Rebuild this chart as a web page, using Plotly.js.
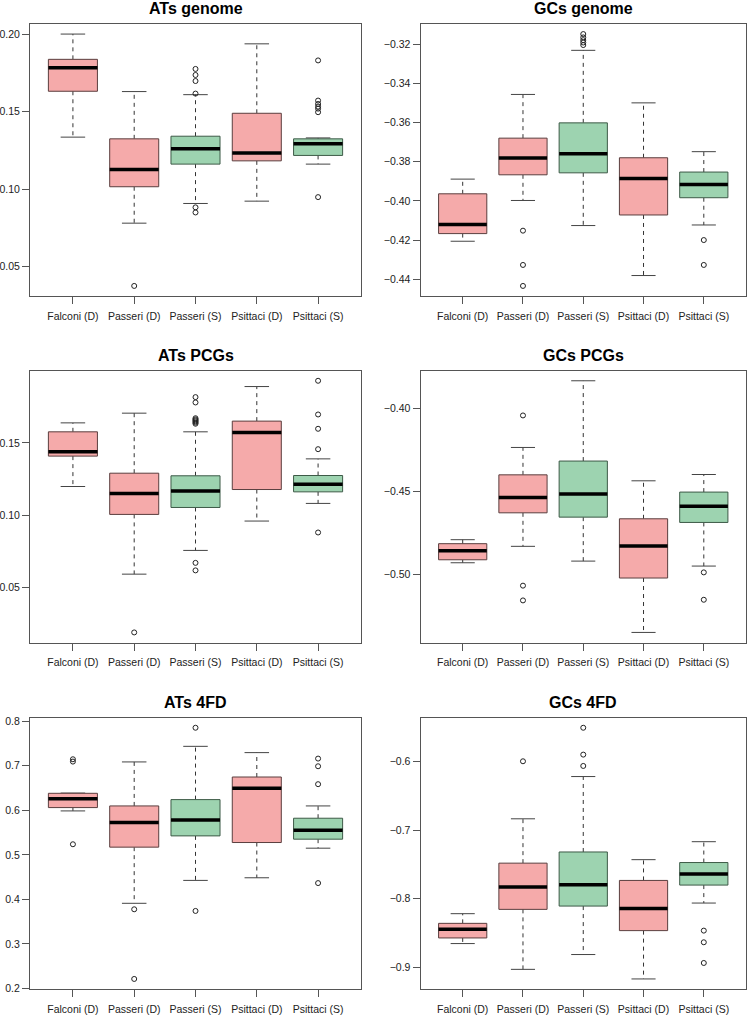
<!DOCTYPE html>
<html><head><meta charset="utf-8">
<script src="https://cdn.plot.ly/plotly-3.0.1.min.js"></script>
<style>html,body{margin:0;padding:0;background:#fff}#chart{width:752px;height:1017px}</style>
</head><body><div id="chart"></div>
<script>
// ---------------- data ----------------
const categories = ['Falconi (D)', 'Passeri (D)', 'Passeri (S)', 'Psittaci (D)', 'Psittaci (S)'];
const groupOf = ['D', 'D', 'S', 'D', 'S'];

const atsGenomeLower  = [0.1335, 0.0780, 0.0907, 0.0922, 0.1161];
const atsGenomeQ1     = [0.1631, 0.1015, 0.1161, 0.1182, 0.1217];
const atsGenomeMedian = [0.1783, 0.1127, 0.1260, 0.1232, 0.1292];
const atsGenomeQ3     = [0.1837, 0.1324, 0.1341, 0.1489, 0.1324];
const atsGenomeUpper  = [0.2000, 0.1629, 0.1609, 0.1937, 0.1330];
const atsGenomeOut    = [[], [0.0375], [0.1775, 0.1736, 0.1697, 0.1616, 0.0882, 0.0849], [], [0.1830, 0.1571, 0.1549, 0.1532, 0.1519, 0.1496, 0.0948]];

const gcsGenomeLower  = [-0.4206, -0.3998, -0.4126, -0.4381, -0.4123];
const gcsGenomeQ1     = [-0.4167, -0.3867, -0.3857, -0.4072, -0.3984];
const gcsGenomeMedian = [-0.4120, -0.3781, -0.3759, -0.3886, -0.3917];
const gcsGenomeQ3     = [-0.3964, -0.3680, -0.3602, -0.3780, -0.3853];
const gcsGenomeUpper  = [-0.3889, -0.3457, -0.3232, -0.3500, -0.3749];
const gcsGenomeOut    = [[], [-0.4152, -0.4327, -0.4434], [-0.3149, -0.3166, -0.3180, -0.3192, -0.3205], [], [-0.4200, -0.4327]];

const atsPcgLower  = [0.1198, 0.0592, 0.0756, 0.0959, 0.1081];
const atsPcgQ1     = [0.1408, 0.1005, 0.1053, 0.1177, 0.1161];
const atsPcgMedian = [0.1438, 0.1150, 0.1166, 0.1571, 0.1214];
const atsPcgQ3     = [0.1576, 0.1290, 0.1272, 0.1650, 0.1274];
const atsPcgUpper  = [0.1638, 0.1705, 0.1576, 0.1889, 0.1389];
const atsPcgOut    = [[], [0.0189], [0.1816, 0.1779, 0.1670, 0.1662, 0.1655, 0.1648, 0.1640, 0.1632, 0.0670, 0.0618], [], [0.1929, 0.1696, 0.1597, 0.1456, 0.0880]];

const gcsPcgLower  = [-0.4930, -0.4831, -0.4920, -0.5350, -0.4950];
const gcsPcgQ1     = [-0.4912, -0.4629, -0.4655, -0.5022, -0.4687];
const gcsPcgMedian = [-0.4857, -0.4536, -0.4516, -0.4829, -0.4590];
const gcsPcgQ3     = [-0.4815, -0.4400, -0.4317, -0.4665, -0.4504];
const gcsPcgUpper  = [-0.4791, -0.4235, -0.3833, -0.4436, -0.4398];
const gcsPcgOut    = [[], [-0.4042, -0.5068, -0.5157], [], [], [-0.4988, -0.5153]];

const ats4fdLower  = [0.5985, 0.3912, 0.4426, 0.4485, 0.5149];
const ats4fdQ1     = [0.6060, 0.5172, 0.5425, 0.5276, 0.5351];
const ats4fdMedian = [0.6260, 0.5724, 0.5784, 0.6493, 0.5552];
const ats4fdQ3     = [0.6380, 0.6097, 0.6239, 0.6746, 0.5821];
const ats4fdUpper  = [0.6385, 0.7084, 0.7434, 0.7293, 0.6097];
const ats4fdOut    = [[0.7144, 0.7092, 0.5237], [0.3778, 0.2215], [0.7851, 0.3741], [], [0.7159, 0.6987, 0.6585, 0.4366]];

const gcs4fdLower  = [-0.8654, -0.9030, -0.8814, -0.9170, -0.8063];
const gcs4fdQ1     = [-0.8572, -0.8155, -0.8107, -0.8465, -0.7801];
const gcs4fdMedian = [-0.8446, -0.7830, -0.7796, -0.8141, -0.7641];
const gcs4fdQ3     = [-0.8359, -0.7481, -0.7318, -0.7733, -0.7472];
const gcs4fdUpper  = [-0.8218, -0.6834, -0.6218, -0.7430, -0.7168];
const gcs4fdOut    = [[], [-0.5995], [-0.5506, -0.5898, -0.6063], [], [-0.8465, -0.8635, -0.8937]];

const panelTitles = ['ATs genome', 'GCs genome', 'ATs PCGs', 'GCs PCGs', 'ATs 4FD', 'GCs 4FD'];

// ---------------- styling ----------------
const panels = [
  {lower: atsGenomeLower, q1: atsGenomeQ1, med: atsGenomeMedian, q3: atsGenomeQ3, upper: atsGenomeUpper, out: atsGenomeOut, dtick: 0.05, fmt: '.2f'},
  {lower: gcsGenomeLower, q1: gcsGenomeQ1, med: gcsGenomeMedian, q3: gcsGenomeQ3, upper: gcsGenomeUpper, out: gcsGenomeOut, dtick: 0.02, fmt: '.2f'},
  {lower: atsPcgLower, q1: atsPcgQ1, med: atsPcgMedian, q3: atsPcgQ3, upper: atsPcgUpper, out: atsPcgOut, dtick: 0.05, fmt: '.2f'},
  {lower: gcsPcgLower, q1: gcsPcgQ1, med: gcsPcgMedian, q3: gcsPcgQ3, upper: gcsPcgUpper, out: gcsPcgOut, dtick: 0.05, fmt: '.2f'},
  {lower: ats4fdLower, q1: ats4fdQ1, med: ats4fdMedian, q3: ats4fdQ3, upper: ats4fdUpper, out: ats4fdOut, dtick: 0.1, fmt: '.1f'},
  {lower: gcs4fdLower, q1: gcs4fdQ1, med: gcs4fdMedian, q3: gcs4fdQ3, upper: gcs4fdUpper, out: gcs4fdOut, dtick: 0.1, fmt: '.1f'}
];
const W = 752, H = 1017;
const xDomains = [[30 / W, 361 / W], [420.5 / W, 746 / W]];
const yDomains = [[1 - 296 / H, 1 - 24 / H], [1 - 642.5 / H, 1 - 370.7 / H], [1 - 989 / H, 1 - 717.7 / H]];
const fills = {D: 'rgb(245,170,170)', S: 'rgb(157,211,176)'};
const borders = {D: '#5a3e3e', S: '#3d5a47'};
const boxHalf = 0.4, capHalf = 0.2;
const FONT = 'Liberation Sans, Arial, Helvetica, sans-serif';

const traces = [];
const layout = {
  width: W, height: H, margin: {l: 0, r: 0, t: 0, b: 0},
  paper_bgcolor: '#fff', plot_bgcolor: '#fff', showlegend: false,
  font: {family: FONT, color: '#222'}, annotations: []
};

panels.forEach((p, k) => {
  const n = k + 1;
  const xa = 'x' + n, ya = 'y' + n;
  const xs = categories.map((c, i) => i + 1);
  const wx = [], wy = [], cx = [], cy = [], mx = [], my = [], ox = [], oy = [];
  xs.forEach((x, i) => {
    wx.push(x, x, null, x, x, null);
    wy.push(p.q3[i], p.upper[i], null, p.q1[i], p.lower[i], null);
    cx.push(x - capHalf, x + capHalf, null, x - capHalf, x + capHalf, null);
    cy.push(p.upper[i], p.upper[i], null, p.lower[i], p.lower[i], null);
    mx.push(x - boxHalf, x + boxHalf, null);
    my.push(p.med[i], p.med[i], null);
    p.out[i].forEach(v => { ox.push(x); oy.push(v); });
  });
  traces.push({type: 'scatter', mode: 'lines', x: wx, y: wy, xaxis: xa, yaxis: ya, hoverinfo: 'skip',
    line: {color: '#333', width: 1, dash: '4px,4px'}});
  traces.push({type: 'scatter', mode: 'lines', x: cx, y: cy, xaxis: xa, yaxis: ya, hoverinfo: 'skip',
    line: {color: '#444', width: 1}});
  ['D', 'S'].forEach(g => {
    const bx = [], by = [];
    xs.forEach((x, i) => {
      if (groupOf[i] !== g) return;
      bx.push(x - boxHalf, x + boxHalf, x + boxHalf, x - boxHalf, x - boxHalf, null);
      by.push(p.q1[i], p.q1[i], p.q3[i], p.q3[i], p.q1[i], null);
    });
    traces.push({type: 'scatter', mode: 'lines', x: bx, y: by, xaxis: xa, yaxis: ya, fill: 'toself',
      fillcolor: fills[g], line: {color: borders[g], width: 1}, hoverinfo: 'skip'});
  });
  traces.push({type: 'scatter', mode: 'lines', x: mx, y: my, xaxis: xa, yaxis: ya, hoverinfo: 'skip',
    line: {color: '#000', width: 3.5}});
  traces.push({type: 'scatter', mode: 'markers', x: ox, y: oy, xaxis: xa, yaxis: ya, hoverinfo: 'skip',
    marker: {symbol: 'circle-open', size: 5, color: '#222', line: {width: 1, color: '#222'}}});

  // R-style range: data extent extended by 4%
  const all = p.lower.concat(p.upper, ...p.out);
  const lo = Math.min(...all), hi = Math.max(...all), pad = (hi - lo) * 0.04;
  const col = k % 2, row = Math.floor(k / 2);
  layout['xaxis' + n] = {
    domain: xDomains[col], anchor: ya, range: [0.3, 5.7], tickmode: 'array', tickvals: xs, ticktext: categories,
    ticks: 'outside', ticklen: 7, tickcolor: '#555', tickwidth: 1, showline: true, mirror: true,
    linecolor: '#555', linewidth: 1, showgrid: false, zeroline: false,
    tickfont: {family: FONT, size: 10.5, color: '#222'}, ticklabelstandoff: 3, fixedrange: true
  };
  layout['yaxis' + n] = {
    domain: yDomains[row], anchor: xa, range: [lo - pad, hi + pad], tick0: 0, dtick: p.dtick, tickformat: p.fmt,
    ticks: 'outside', ticklen: 7, tickcolor: '#555', tickwidth: 1, showline: true, mirror: true,
    linecolor: '#555', linewidth: 1, showgrid: false, zeroline: false,
    tickfont: {family: FONT, size: 10.5, color: '#222'}, ticklabelstandoff: 0, fixedrange: true
  };
  layout.annotations.push({
    text: panelTitles[k], xref: 'paper', yref: 'paper',
    x: (xDomains[col][0] + xDomains[col][1]) / 2, y: yDomains[row][1],
    xanchor: 'center', yanchor: 'bottom', yshift: 5, showarrow: false,
    font: {family: FONT, size: 16, color: '#000', weight: 'bold'}
  });
});

Plotly.newPlot('chart', traces, layout, {displayModeBar: false, staticPlot: true});
</script>
</body></html>
